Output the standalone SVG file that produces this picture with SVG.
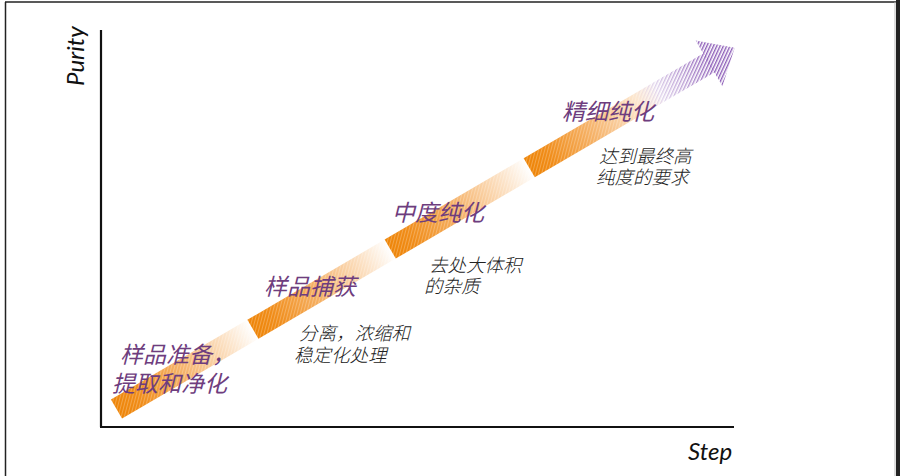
<svg xmlns="http://www.w3.org/2000/svg" width="900" height="476" viewBox="0 0 900 476">
  <defs>
    <style>
      .lbl { font-family: "Noto Sans CJK SC", "Noto Sans", sans-serif; font-style: italic; fill: #6E3D7E; font-size: 23px; }
      .desc { font-family: "Noto Sans CJK SC", "Noto Sans", sans-serif; font-style: italic; font-weight: 300; fill: #222222; font-size: 18.5px; }
      .axis-title { font-family: Lato, "Open Sans", sans-serif; font-style: italic; fill: #111111; font-size: 24px; }
      .axis { stroke: #111111; stroke-width: 2.2; fill: none; }
    </style>
    <linearGradient id="segGrad" x1="0" y1="0" x2="1" y2="0">
      <stop offset="0" stop-color="#EE8508"/>
      <stop offset="0.15" stop-color="#F08C18"/>
      <stop offset="0.5" stop-color="#F6B56E"/>
      <stop offset="0.82" stop-color="#FCE3C8"/>
      <stop offset="1" stop-color="#FFFFFF"/>
    </linearGradient>
    <pattern id="hatch" width="3" height="3" patternUnits="userSpaceOnUse" patternTransform="rotate(45)">
      <rect x="0" y="0" width="1" height="3" fill="#FFFFFF" fill-opacity="0.25"/>
    </pattern>
    <pattern id="purpleHatch" width="3" height="3" patternUnits="userSpaceOnUse" patternTransform="rotate(55)">
      <rect x="0" y="0" width="1.4" height="3" fill="#8E5FB8"/>
    </pattern>
    <linearGradient id="shaftFade" x1="0" y1="0" x2="1" y2="0">
      <stop offset="0" stop-color="#FFFFFF" stop-opacity="0"/>
      <stop offset="1" stop-color="#FFFFFF" stop-opacity="1"/>
    </linearGradient>
    <mask id="shaftMask" maskUnits="userSpaceOnUse" x="560" y="-40" width="200" height="80">
      <rect x="605" y="-12" width="82" height="24" fill="url(#shaftFade)"/>
    </mask>
  </defs>

  <rect x="0" y="0" width="900" height="476" fill="#FFFFFF"/>
  <line x1="5" y1="2" x2="900" y2="2" stroke="#222222" stroke-width="1.5"/>
  <line x1="5.5" y1="2" x2="5.5" y2="476" stroke="#222222" stroke-width="1.5"/>
  <line x1="895" y1="2" x2="895" y2="476" stroke="#BBBBBB" stroke-width="1"/>
  <rect x="896" y="0" width="4" height="476" fill="#222222"/>

  <g id="axes">
    <line class="axis" x1="101" y1="30" x2="101" y2="427"/>
    <line class="axis" x1="100" y1="427" x2="734" y2="427"/>
    <text class="axis-title" transform="translate(84,86) rotate(-90)">Purity</text>
    <text class="axis-title" x="688" y="460">Step</text>
  </g>

  <g id="connectors">
    <g id="progress-arrow" transform="translate(116.5,409) rotate(-30.3)">
      <rect x="0" y="-11" width="158" height="22" fill="url(#segGrad)"/>
      <rect x="158" y="-11" width="159" height="22" fill="url(#segGrad)"/>
      <rect x="317" y="-11" width="161" height="22" fill="url(#segGrad)"/>
      <rect x="478" y="-11" width="150" height="22" fill="url(#segGrad)"/>
      <rect x="0" y="-11" width="628" height="22" fill="url(#hatch)"/>
      <rect x="605" y="-11" width="82" height="22" fill="url(#purpleHatch)" mask="url(#shaftMask)"/>
      <polygon points="686,-26 716,0 686,27" fill="url(#purpleHatch)"/>
    </g>
  </g>

  <g id="stage1">
    <text class="lbl" x="120" y="363">样品准备，</text>
    <text class="lbl" x="112" y="392">提取和净化</text>
  </g>
  <g id="stage2">
    <text class="lbl" x="264" y="295">样品捕获</text>
    <text class="desc" x="299" y="340">分离，浓缩和</text>
    <text class="desc" x="294" y="362">稳定化处理</text>
  </g>
  <g id="stage3">
    <text class="lbl" x="392" y="221">中度纯化</text>
    <text class="desc" x="429" y="272">去处大体积</text>
    <text class="desc" x="424" y="293">的杂质</text>
  </g>
  <g id="stage4">
    <text class="lbl" x="562" y="120">精细纯化</text>
    <text class="desc" x="599" y="163">达到最终高</text>
    <text class="desc" x="596" y="184">纯度的要求</text>
  </g>
</svg>
